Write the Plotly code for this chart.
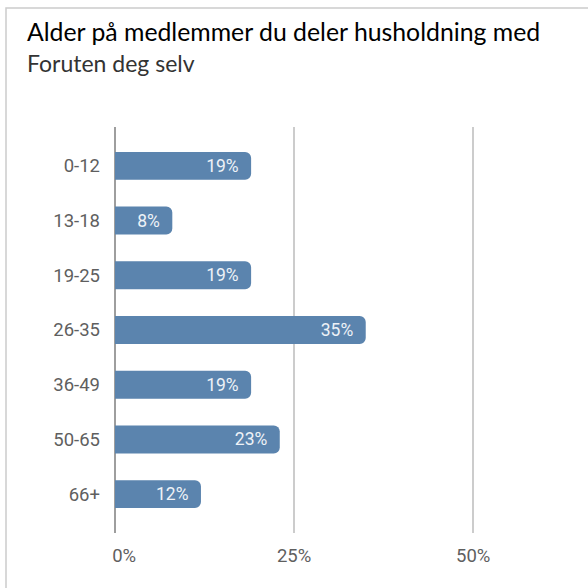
import plotly.graph_objects as go

# data
age_groups = ["0-12", "13-18", "19-25", "26-35", "36-49", "50-65", "66+"]
shares = [19, 8, 19, 35, 19, 23, 12]
x_ticks = [0, 25, 50]
x_tick_labels = ["\u00a0\u00a0\u00a0\u00a00%", "25%", "50%"]

title_text = "Alder på medlemmer du deler husholdning med"
subtitle_text = "Foruten deg selv"

# plot area in pixels (588x588 page)
L, R, T, B = 115, 79, 127, 55
W = 588 - L - R
H = 588 - T - B


def px_x(px):
    return (px - L) / W


def px_y(py):
    return (588 - B - py) / H


fig = go.Figure()
fig.add_trace(go.Bar(
    x=shares,
    y=age_groups,
    orientation="h",
    marker=dict(color="#5b84ae", line=dict(width=0), cornerradius=6),
    width=0.51,
    text=shares,
    texttemplate="%{x}%\u00a0\u00a0",
    textposition="inside",
    insidetextanchor="end",
    textfont=dict(family="Roboto", size=17.5, color="#eef2f7"),
    hoverinfo="skip",
))

fig.update_layout(
    width=588,
    height=588,
    margin=dict(l=L, r=R, t=T, b=B, autoexpand=False),
    paper_bgcolor="#ffffff",
    plot_bgcolor="#ffffff",
    showlegend=False,
    xaxis=dict(
        range=[0, 55],
        tickvals=x_ticks,
        ticktext=x_tick_labels,
        showgrid=True,
        gridcolor="#cccccc",
        gridwidth=1.5,
        zeroline=True,
        zerolinecolor="#9e9e9e",
        zerolinewidth=2,
        showline=False,
        ticks="",
        ticklabelstandoff=9,
        tickfont=dict(family="Roboto", size=18.5, color="#5f5f5f"),
        fixedrange=True,
    ),
    yaxis=dict(
        range=[6.71, -0.71],
        showgrid=False,
        zeroline=False,
        showline=False,
        ticks="",
        ticklabelstandoff=14,
        tickfont=dict(family="Roboto", size=18.5, color="#5f5f5f"),
        fixedrange=True,
    ),
    annotations=[
        dict(text=title_text, x=px_x(25), y=px_y(31), xref="paper", yref="paper",
             xanchor="left", yanchor="middle", showarrow=False,
             font=dict(family="Lato", size=24.8, color="#000000")),
        dict(text=subtitle_text, x=px_x(25), y=px_y(63), xref="paper", yref="paper",
             xanchor="left", yanchor="middle", showarrow=False,
             font=dict(family="Lato", size=23, color="#333333")),
    ],
    shapes=[
        dict(type="rect", xref="paper", yref="paper",
             x0=px_x(6), x1=px_x(700), y0=px_y(700), y1=px_y(8),
             line=dict(color="#cccccc", width=1.5), fillcolor="rgba(0,0,0,0)",
             layer="above"),
    ],
)

fig.write_html("out.html", config={"displayModeBar": False},
               post_script="document.body.style.margin='0';")
